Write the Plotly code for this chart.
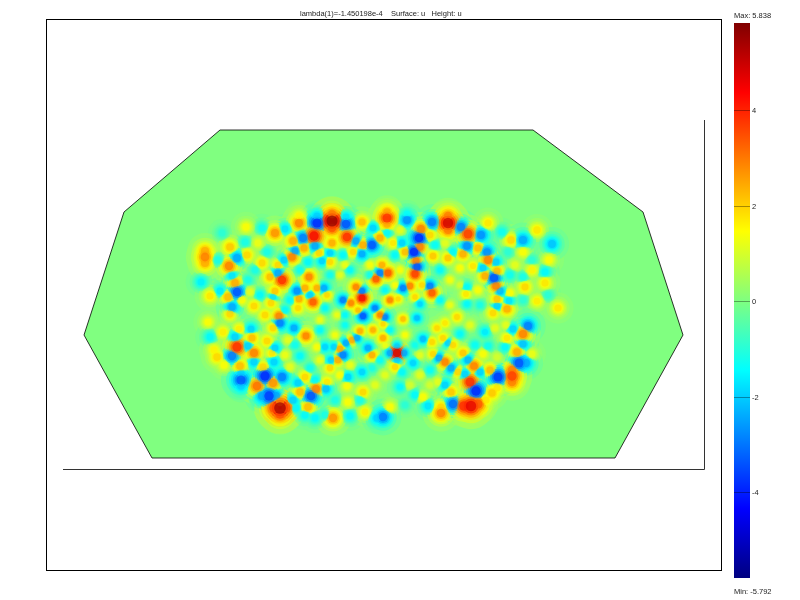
import math
import plotly.graph_objects as go

poly_x = [220, 533, 643, 683, 615, 152, 84, 124, 220]
poly_y = [130, 130, 212, 335, 458, 458, 335, 212, 130]
axis_x = [63, 704.5, 704.5]
axis_y = [469.5, 469.5, 120]

nw_x = [332,332,332,317,317,299,299,346,346,362,373,285,275,262,246,222,205,205,205,218,201,210,220,230,245,258,247,237,229,232,235,237,228,248,262,232,242,230,254,270,278,282,275,297,278,292,295,284,293,303,314,304,315,319,332,330,347,356,363,372,362,353,343,330,322,308,309,305,317,324,310,299,313,327,343,351,362,362,356,376,375,363,358,279,271,273,298,265,267,255,300,340,345,330,350,370,370,290,285,250,260,325,337,345]
nw_y = [221,214,228,223,216,223,216,224,217,222,228,229,233,228,227,233,257,251,263,260,282,296,291,247,242,243,255,258,266,276,283,292,297,280,263,307,300,314,306,277,273,280,291,291,265,257,251,260,241,238,236,248,246,253,243,253,237,241,245,245,254,252,255,262,261,262,277,288,288,288,295,299,302,295,300,303,298,291,287,279,308,316,310,316,303,297,308,315,252,270,270,275,265,275,270,265,275,300,310,292,295,308,315,315]
nw_u = [5.7,3,3.5,-4,-2,3,1.6,-3.5,-1.8,2.3,-2,-1.8,2.8,-1.3,1.5,-1,3,2.5,2.5,-1.2,-1.6,1.8,-1.7,2.2,-1.2,1.3,2,-2.5,3,-1.8,2.5,-3.5,2.3,-1.2,2,-2.5,1.5,2,2,2.3,-2.5,4,2.2,-2.8,2,3,-2.5,-2,2.5,-3,4.5,2.5,-2.5,2,2.5,-2,4,-2.5,2.5,-3.5,-2.5,2,-1.5,2,-2,-1.5,3,2.5,2.5,-2.5,-2,2.5,3.5,2,-3,3,4.5,-3,3,3.5,-3,-3.5,2.3,3,2,-1.8,2,2,-1.2,-1.2,-1.3,1.2,1.3,-1.3,-1.5,1.5,-1.3,-1.5,-1.5,1.2,-1.5,-1.5,1.3,-1.5]

ne_x = [387,387,387,407,407,432,448,448,448,461,488,468,481,421,430,419,420,387,402,393,380,414,405,416,417,415,410,403,388,380,382,433,430,432,422,448,453,467,463,478,487,488,496,473,460,483,497,485,494,496,500,510,467,466,497,509,497,507,493,467,502,511,523,537,552,523,508,549,532,532,545,523,525,545,537,548,558,523,390,398,415,420,395,400,440,450,440,450,478,480,515,510,400,445,435,460,395,385]
ne_y = [218,212,224,220,214,222,223,216,230,227,223,234,235,229,235,238,247,233,243,243,238,252,252,261,267,274,286,288,273,273,265,256,286,293,285,258,252,246,254,248,252,260,262,266,268,268,271,276,278,286,291,293,287,294,299,301,306,309,313,304,232,240,240,230,244,252,252,260,260,270,272,277,287,283,301,295,308,300,300,299,297,304,255,270,270,280,300,305,290,305,265,275,230,243,245,285,285,290]
ne_u = [4,2.5,2.5,-2.8,-1.4,-3,5,3,3,-3,1.8,3.8,-2.8,3,2,-4,3,-1.5,-2,1.8,2.5,-4,2.3,3,-3.5,3.8,3,-3,3.5,-3,2.5,2.2,-3,3.5,2,2.2,-1.5,-2.8,2.5,2.3,-2.8,3,-2,1.8,1.5,-2,2.3,2.5,-3.5,3,-2.3,1.5,-1.5,1.8,2.2,-1.8,-2,2.5,2,-1.5,-1.3,2,-2.5,1.8,-2.2,1.5,-1,1.5,-1,1.6,-1.5,-1.2,2,1.8,1.7,-1,1.8,-1,3,2,2,-2,-1.5,1.5,-1.5,1.4,-1.5,1.3,1.5,-1.2,1.2,-1.3,1.2,1.2,-1.4,1,1.5,-1.5]

sw_x = [208,210,217,214,224,237,232,240,248,254,254,263,274,275,267,252,235,223,239,251,272,241,241,241,265,282,257,273,269,262,276,280,280,280,274,286,293,296,300,298,311,316,308,305,326,327,315,315,305,325,333,350,365,377,363,348,347,348,362,340,330,338,343,331,346,340,352,357,360,372,368,373,294,306,280,273,300,317,325,334,288,295,285,310,320,290,350,372,375,335,360,320,335,345,320]
sw_y = [322,337,357,350,365,347,356,366,346,353,362,367,362,348,341,338,337,332,329,329,353,380,374,386,376,377,386,383,396,396,396,408,402,414,408,408,400,408,392,383,396,389,407,377,389,382,380,418,415,415,418,416,412,418,392,402,386,377,372,375,368,360,355,360,343,349,340,338,331,355,348,330,328,336,323,328,356,347,347,347,340,345,355,368,360,367,365,368,385,400,400,330,335,325,320]
sw_u = [1.5,-1.5,2,1.6,1.5,4,-3,2.3,-2,3,-2,2,-2,-2,2,2.3,-2,1.7,1.7,-2,1.8,-3.5,-2,-2,-4,-3,3.2,2.8,-3.8,-2.5,-2.5,5.5,2.8,3.5,3.5,3.5,-2,-1.5,2.3,-2,-3.5,3,2.3,2,-2.2,1.8,-1.5,-1.5,-1.5,-1.2,2.8,-1.5,1.7,-2,2,1.5,1.5,-2,-2,1.5,2,2.5,-3,-2,-2.5,2.5,2.5,-2.5,2.5,2.5,-2.5,2.5,-2.5,3,-3,2,-1.5,1.5,-2,-2,1.2,-1.3,1.3,-1.3,1.3,1.2,1.3,-1.2,1.2,-1.2,-1.2,-1.5,1.4,-1.4,1.3]

se_x = [397,390,404,397,397,528,513,523,507,523,505,517,532,519,526,512,512,512,498,490,474,480,470,476,492,497,471,464,478,486,453,451,445,441,441,428,415,423,438,383,390,458,451,445,439,433,465,468,463,483,488,485,460,448,443,453,432,423,437,445,457,403,417,383,383,413,395,402,400,495,506,385,380,390,405,415,420,385,380,385,420,430,410,475,470,497,405,430]
se_y = [353,353,353,346,360,326,329,334,338,344,347,352,354,363,363,376,370,382,377,370,366,372,382,391,393,388,406,406,404,400,404,392,385,413,407,406,395,397,382,417,407,372,368,362,358,354,374,360,353,354,346,332,334,343,338,345,342,339,328,323,317,319,318,338,324,363,367,372,387,328,325,317,315,330,335,345,355,345,360,375,375,370,385,345,325,357,405,385]
se_u = [5,-2.5,-2.5,-2,-2,-3,-2,3,1.8,-2.2,-1.5,2.5,1.3,-3.5,-2.5,3.8,3,3,-3.8,2.3,3,-2,4,-4,2.2,1.8,4.7,4,3.5,1.8,-3.2,2.2,-2,3,2,-1.8,-1.5,1.5,1.2,-3,1.5,2,-2.5,3,-2.5,2,-2,-2.3,2.2,1.5,-1.3,-1.7,-1.5,-2,2,2,2,-2.3,2,1.8,2,2.3,-2.3,2.5,2,-2,2,-1.5,-1.5,1.2,1.2,-3,3,-1.5,1.5,-1.3,1.2,1.3,-1.4,1.2,1.2,-1.4,1,-1.4,1.2,1,-1,1]

u_min, u_max = -5.792, 5.838
xs = nw_x + ne_x + sw_x + se_x
ys = nw_y + ne_y + sw_y + se_y
us = nw_u + ne_u + sw_u + se_u
assert len(xs) == len(ys) == len(us)
order = sorted(range(len(us)), key=lambda i: abs(us[i]))
xs = [xs[i] for i in order]
ys = [ys[i] for i in order]
us = [us[i] for i in order]

jet = [[0, "rgb(0,0,128)"], [0.125, "rgb(0,0,255)"], [0.375, "rgb(0,255,255)"],
       [0.625, "rgb(255,255,0)"], [0.875, "rgb(255,0,0)"], [1, "rgb(128,0,0)"]]
font = dict(family="Liberation Sans", size=7.5, color="#222222")
L, R, T, B = 47, 721, 20, 570
px = lambda v: (v - L) / (R - L)
py = lambda v: (B - v) / (B - T)
colorbar = dict(
    thickness=16, thicknessmode="pixels", len=555, lenmode="pixels",
    x=px(734), xanchor="left", xpad=0, y=py(23), yanchor="top", ypad=0,
    outlinewidth=0, tickmode="array", tickvals=[-4, -2, 0, 2, 4],
    ticktext=["-4", "-2", "0", "2", "4"], ticks="inside", ticklen=16, tickwidth=1,
    tickcolor="rgba(0,0,0,0.35)", tickfont=font,
)

fig = go.Figure()
fig.add_trace(go.Scatter(x=poly_x, y=poly_y, mode="lines", fill="toself", fillcolor="rgb(128,255,128)",
                         line=dict(color="black", width=0.8), hoverinfo="skip", showlegend=False))
fig.add_trace(go.Scatter(x=axis_x, y=axis_y, mode="lines", line=dict(color="#333333", width=1),
                         hoverinfo="skip", showlegend=False))


def diameter(x, y, u):
    # blobs are tight near the middle of the field and wider at its rim
    rim = min(1.0, math.hypot((x - 380) / 190, (y - 310) / 120))
    return (11 + 2.6 * abs(u)) * (0.72 + 0.45 * rim)


base = [diameter(x, y, u) for x, y, u in zip(xs, ys, us)]
# concentric discs of each blob, drawn through stretched colour ranges so the rings follow the jet scale
rings = [(1.75, 3.5, 0.35), (1.3, 3.0, 0.6), (1.05, 2.4, 0.75), (0.88, 1.9, 0.85), (0.72, 1.5, 0.9), (0.56, 1.2, 0.95), (0.4, 1.0, 1.0)]
for k, (grow, stretch, alpha) in enumerate(rings):
    fig.add_trace(go.Scatter(
        x=xs, y=ys, mode="markers", hoverinfo="skip", showlegend=False, opacity=alpha,
        marker=dict(size=[d * grow for d in base], color=us, colorscale=jet,
                    cmin=u_min * stretch, cmax=u_max * stretch, line=dict(width=0),
                    showscale=k == len(rings) - 1, colorbar=colorbar),
    ))

sp = "\u00a0"
fig.update_layout(
    width=800, height=600, margin=dict(l=L, r=800 - R, t=T, b=600 - B),
    paper_bgcolor="white", plot_bgcolor="white", font=font, showlegend=False,
    xaxis=dict(range=[L, R], showticklabels=False, ticks="", showgrid=False,
               zeroline=False, showline=True, mirror=True, linecolor="black", linewidth=1),
    yaxis=dict(range=[B, T], showticklabels=False, ticks="", showgrid=False,
               zeroline=False, showline=True, mirror=True, linecolor="black", linewidth=1),
    annotations=[
        dict(text=f"lambda(1)=-1.450198e-4{sp*4}Surface: u{sp*3}Height: u", xref="paper", yref="paper",
             x=px(381), y=py(14), xanchor="center", yanchor="middle", showarrow=False, font=font),
        dict(text="Max: 5.838", xref="paper", yref="paper", x=px(734), y=py(16),
             xanchor="left", yanchor="middle", showarrow=False, font=font, xshift=-2),
        dict(text="Min: -5.792", xref="paper", yref="paper", x=px(734), y=py(591),
             xanchor="left", yanchor="middle", showarrow=False, font=font, xshift=-2),
    ],
)
fig.write_html("out.html", post_script="document.body.style.margin='0';", config=dict(displayModeBar=False))
